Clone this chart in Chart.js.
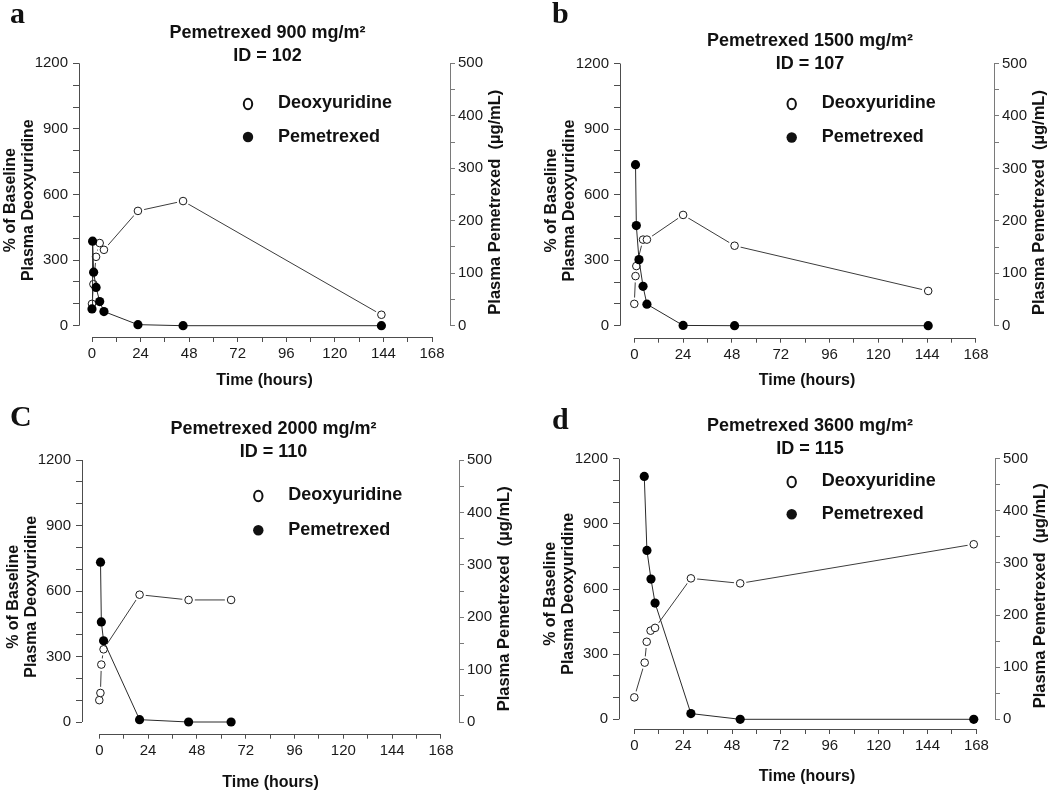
<!DOCTYPE html>
<html>
<head>
<meta charset="utf-8">
<title>Pemetrexed and plasma deoxyuridine</title>
<script src="https://cdn.jsdelivr.net/npm/chart.js@4.4.0/dist/chart.umd.min.js"></script>
<style>
  html, body { margin: 0; padding: 0; background: #fff; }
  #fig { position: relative; width: 1050px; height: 792px; }
  .panel { position: absolute; width: 525px; height: 396px; }
</style>
</head>
<body>
<div id="fig">
  <div class="panel" style="left:0;top:0"><canvas id="pa" width="525" height="396"></canvas></div>
  <div class="panel" style="left:525px;top:0"><canvas id="pb" width="525" height="396"></canvas></div>
  <div class="panel" style="left:0;top:396px"><canvas id="pc" width="525" height="396"></canvas></div>
  <div class="panel" style="left:525px;top:396px"><canvas id="pd" width="525" height="396"></canvas></div>
</div>
<script>
// ---- data (time in hours) ----
// a: 900 mg/m2, ID 102
const dUrdTimeA = [0, 0.7, 2, 3.8, 5.9, 22.7, 45, 143];
const dUrdA     = [100, 190, 315, 378, 347, 525, 570, 50];      // % of baseline
const pemTimeA  = [0, 0.3, 0.8, 2, 3.8, 5.9, 22.7, 45, 143];
const pemA      = [32, 161, 102, 73, 46, 27, 2, 0, 0];           // ug/mL

// b: 1500 mg/m2, ID 107
const dUrdTimeB = [0, 0.6, 1, 4.3, 6.2, 24, 49.3, 144.5];
const dUrdB     = [100, 227, 273, 394, 394, 507, 366, 159];
const pemTimeB  = [0.6, 1, 2.3, 4.3, 6.2, 24, 49.3, 144.5];
const pemB      = [307, 191, 126, 75, 41, 0.5, 0, 0];

// c: 2000 mg/m2, ID 110
const dUrdTimeC = [0, 0.55, 1, 2.1, 19.8, 43.9, 64.8];
const dUrdC     = [100, 133, 263, 333, 583, 559, 559];
const pemTimeC  = [0.6, 1, 2.1, 19.8, 43.9, 64.8];
const pemC      = [305, 191, 155, 4.5, 0, 0];

// d: 3600 mg/m2, ID 115
const dUrdTimeD = [0, 5.1, 6.1, 8, 10.2, 27.8, 52, 166.7];
const dUrdD     = [101, 261, 357, 408, 421, 649, 626, 806];
const pemTimeD  = [4.9, 6.2, 8.2, 10.2, 27.8, 52, 166.7];
const pemD      = [466, 324, 269, 223, 11, 0, 0];

const xTicks = [0, 12, 24, 36, 48, 60, 72, 84, 96, 108, 120, 132, 144, 156, 168];
const leftTicks = [0, 100, 200, 300, 400, 500, 600, 700, 800, 900, 1000, 1100, 1200];
const rightTicks = [0, 50, 100, 150, 200, 250, 300, 350, 400, 450, 500];

const SANS = '"Liberation Sans", Arial, Helvetica, sans-serif';
const SERIF = '"Liberation Serif", "Times New Roman", serif';
const AXIS = '#4d4d4d';
const AXIS_R = '#7a7a7a';
const W = 525, H = 396;

// pixel layout of each panel inside its 525x396 box
const panels = [
  { id: 'pa', letter: 'a', dose: '900', pid: '102',
    dT: dUrdTimeA, dV: dUrdA, pT: pemTimeA, pV: pemA,
    f: { axisL: 79, x0: 92, x168: 432, axisR: 450, top: 63.3, y0: 325.7, base: 337,
         titleY: 33, letterX: 10, letterY: 23, xTitlePad: 6, legX: 248, legY: [103, 137] } },
  { id: 'pb', letter: 'b', dose: '1500', pid: '107',
    dT: dUrdTimeB, dV: dUrdB, pT: pemTimeB, pV: pemB,
    f: { axisL: 95, x0: 109.3, x168: 451, axisR: 469, top: 63.5, y0: 325.7, base: 337.7,
         titleY: 41.5, letterX: 27, letterY: 23, xTitlePad: 6, legX: 266.7, legY: [103, 137.5] } },
  { id: 'pc', letter: 'C', dose: '2000', pid: '110',
    dT: dUrdTimeC, dV: dUrdC, pT: pemTimeC, pV: pemC,
    f: { axisL: 82, x0: 99.3, x168: 441, axisR: 459, top: 64, y0: 326, base: 337.7,
         titleY: 33, letterX: 10, letterY: 30, xTitlePad: 0, legX: 258.3, legY: [99, 134.3] } },
  { id: 'pd', letter: 'd', dose: '3600', pid: '115',
    dT: dUrdTimeD, dV: dUrdD, pT: pemTimeD, pV: pemD,
    f: { axisL: 94, x0: 109.3, x168: 451.4, axisR: 470, top: 62.7, y0: 323.3, base: 333,
         titleY: 30, letterX: 27, letterY: 33, xTitlePad: 6, legX: 266.7, legY: [85, 118.3] } }
];

function toPoints(t, v) {
  return t.map((x, i) => ({ x: x, y: v[i] }));
}

function hline(ctx, x1, x2, y) {
  y = Math.round(y) + 0.5;
  ctx.beginPath(); ctx.moveTo(x1, y); ctx.lineTo(x2, y); ctx.stroke();
}
function vline(ctx, x, y1, y2) {
  x = Math.round(x) + 0.5;
  ctx.beginPath(); ctx.moveTo(x, y1); ctx.lineTo(x, y2); ctx.stroke();
}

// R-style detached axis lines, titles and the in-plot key
const decor = {
  id: 'decor',
  afterDraw(chart, args, o) {
    const { ctx, chartArea: ca } = chart;
    const { x, y, y2 } = chart.scales;
    ctx.save();
    ctx.lineWidth = 1;
    ctx.strokeStyle = AXIS;
    hline(ctx, x.getPixelForValue(0), x.getPixelForValue(168), ca.bottom);
    vline(ctx, ca.left, y.getPixelForValue(0), y.getPixelForValue(1200));
    ctx.strokeStyle = AXIS_R;
    vline(ctx, ca.right, y2.getPixelForValue(0), y2.getPixelForValue(500));

    ctx.fillStyle = '#111';
    ctx.textBaseline = 'middle';

    // right axis title, reading bottom to top
    ctx.save();
    ctx.translate(ca.right + 45, (ca.top + ca.bottom) / 2 + 2);
    ctx.rotate(-Math.PI / 2);
    ctx.textAlign = 'center';
    ctx.font = 'bold 16.5px ' + SANS;
    ctx.fillText('Plasma Pemetrexed  (\u00b5g/mL)', 0, 0);
    ctx.restore();

    // panel title
    const cx = (ca.left + ca.right) / 2 + 3;
    ctx.textAlign = 'center';
    ctx.font = 'bold 18px ' + SANS;
    ctx.fillText('Pemetrexed ' + o.dose + ' mg/m\u00b2', cx, o.titleY);
    ctx.fillText('ID = ' + o.pid, cx, o.titleY + 23);

    // panel letter
    ctx.textAlign = 'left';
    ctx.textBaseline = 'alphabetic';
    ctx.font = 'bold 30px ' + SERIF;
    ctx.fillText(o.letter, o.letterX, o.letterY);

    // key
    ctx.textBaseline = 'middle';
    ctx.font = 'bold 18px ' + SANS;
    ctx.strokeStyle = '#111';
    ctx.lineWidth = 2;
    ctx.beginPath();
    ctx.ellipse(o.legX, o.legY[0] + 1, 4.2, 5.2, 0, 0, Math.PI * 2);
    ctx.stroke();
    ctx.fillText('Deoxyuridine', o.legX + 30, o.legY[0]);
    ctx.beginPath();
    ctx.arc(o.legX, o.legY[1], 5.2, 0, Math.PI * 2);
    ctx.fill();
    ctx.fillText('Pemetrexed', o.legX + 30, o.legY[1]);
    ctx.restore();
  }
};

panels.forEach(p => {
  const f = p.f;
  const pxPerH = (f.x168 - f.x0) / 168;
  const xMin = -(f.x0 - f.axisL) / pxPerH;
  const xMax = 168 + (f.axisR - f.x168) / pxPerH;
  const pxPerU = (f.y0 - f.top) / 1200;
  const yMin = -(f.base - f.y0) / pxPerU;
  const y2Min = yMin * 500 / 1200;

  const dPts = toPoints(p.dT, p.dV);
  const pPts = toPoints(p.pT, p.pV);

  new Chart(document.getElementById(p.id).getContext('2d'), {
    type: 'scatter',
    data: {
      datasets: [
        { label: 'Deoxyuridine line', data: dPts, yAxisID: 'y', showLine: true,
          borderColor: '#3c3c3c', borderWidth: 1, pointRadius: 0, order: 4, clip: false },
        { label: 'gap', data: dPts, yAxisID: 'y', showLine: false,
          pointRadius: 6.3, pointBorderWidth: 0, pointBackgroundColor: '#fff', order: 3, clip: false },
        { label: 'Deoxyuridine', data: dPts, yAxisID: 'y', showLine: false,
          pointRadius: 3.8, pointBorderWidth: 1, pointBorderColor: '#1a1a1a',
          pointBackgroundColor: '#fff', order: 2, clip: false },
        { label: 'Pemetrexed', data: pPts, yAxisID: 'y2', showLine: true,
          borderColor: '#2a2a2a', borderWidth: 1, pointRadius: 4.6, pointBorderWidth: 0,
          pointBackgroundColor: '#000', order: 1, clip: false }
      ]
    },
    options: {
      responsive: false,
      animation: false,
      devicePixelRatio: 1,
      layout: { padding: { top: f.top, left: 0, right: 0, bottom: 0 } },
      plugins: {
        legend: { display: false },
        tooltip: { enabled: false },
        decor: { letter: p.letter, dose: p.dose, pid: p.pid, titleY: f.titleY,
                 letterX: f.letterX, letterY: f.letterY, legX: f.legX, legY: f.legY }
      },
      scales: {
        x: {
          type: 'linear', position: 'bottom', min: xMin, max: xMax,
          afterBuildTicks: s => { s.ticks = xTicks.map(v => ({ value: v })); },
          afterFit: s => { s.height = H - f.base; },
          grid: { drawOnChartArea: false, drawTicks: true, tickLength: 5, color: AXIS },
          border: { display: false },
          ticks: { autoSkip: false, maxRotation: 0, padding: 3, color: '#1a1a1a',
                   font: { family: SANS, size: 15 },
                   callback: v => (v % 24 === 0 ? String(v) : '') },
          title: { display: true, text: 'Time (hours)', color: '#111',
                   font: { family: SANS, size: 16, weight: 'bold' },
                   padding: { top: 0, bottom: f.xTitlePad } }
        },
        y: {
          type: 'linear', position: 'left', min: yMin, max: 1200,
          afterBuildTicks: s => { s.ticks = leftTicks.map(v => ({ value: v })); },
          afterFit: s => { s.width = f.axisL; },
          grid: { drawOnChartArea: false, drawTicks: true, tickLength: 6, color: AXIS },
          border: { display: false },
          ticks: { autoSkip: false, padding: 5, color: '#1a1a1a',
                   font: { family: SANS, size: 15 },
                   callback: v => (v % 300 === 0 ? String(v) : '') },
          title: { display: true, text: ['% of Baseline', 'Plasma Deoxyuridine'], color: '#111',
                   font: { family: SANS, size: 16, weight: 'bold', lineHeight: 1.1 },
                   padding: { top: Math.max(0, f.axisL - 77.3), bottom: 0 } }
        },
        y2: {
          type: 'linear', position: 'right', min: y2Min, max: 500,
          afterBuildTicks: s => { s.ticks = rightTicks.map(v => ({ value: v })); },
          afterFit: s => { s.width = W - f.axisR; },
          grid: { drawOnChartArea: false, drawTicks: true, tickLength: 5, color: AXIS_R },
          border: { display: false },
          ticks: { autoSkip: false, padding: 3, color: '#1a1a1a',
                   font: { family: SANS, size: 15 },
                   callback: v => (v % 100 === 0 ? String(v) : '') }
        }
      }
    },
    plugins: [decor]
  });
});
</script>
</body>
</html>
